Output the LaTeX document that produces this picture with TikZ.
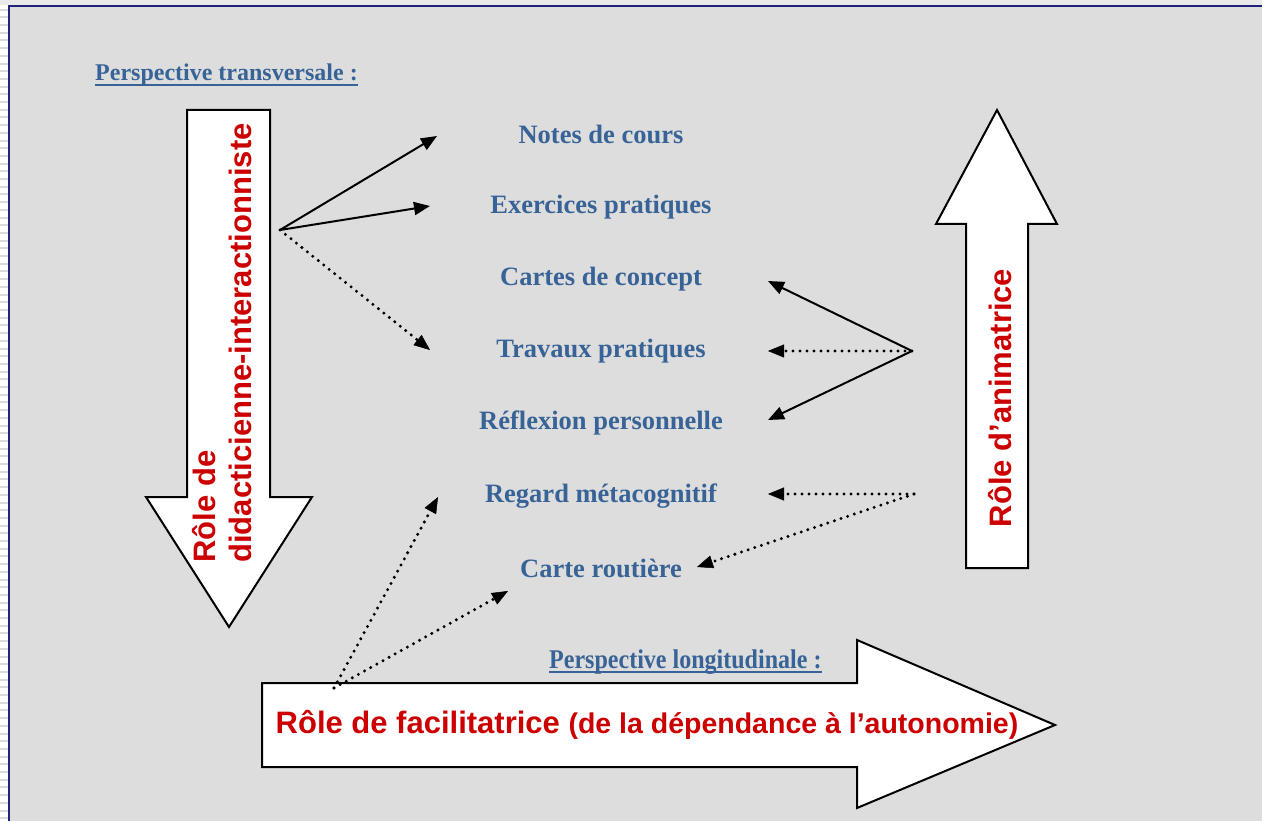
\documentclass[tikz,border=0pt]{standalone}
\usepackage{fontspec}
\setmainfont{Liberation Serif}
\setsansfont{Liberation Sans}
\usetikzlibrary{arrows.meta}
\definecolor{fondgris}{HTML}{DDDDDD}
\definecolor{rayure}{HTML}{DADADA}
\definecolor{bleutitre}{HTML}{386396}
\definecolor{rougerole}{HTML}{CC0000}
\definecolor{cadre}{HTML}{22227A}
\tikzset{
  outil/.style={font=\fontsize{26.5}{30}\selectfont\bfseries, text=bleutitre, inner sep=0pt},
  perspective/.style={font=\fontsize{24}{28}\selectfont\bfseries, text=bleutitre, inner sep=0pt, anchor=base west},
  role/.style={font=\fontsize{31}{36}\selectfont\sffamily\bfseries, text=rougerole, inner sep=0pt},
  bloc/.style={fill=white, draw=black, line width=2pt, line join=miter},
  fleche/.style={line width=2pt, -{Triangle[length=16pt,width=13pt]}},
  pointille/.style={line width=3.3pt, line cap=round, dash pattern=on 0pt off 7pt, -{Triangle[length=16pt,width=13pt,line width=0.5pt]}},
}
\begin{document}
\begin{tikzpicture}[x=1pt,y=-1pt]
  \useasboundingbox (0,0) rectangle (1262,821);
  % page frame
  \fill[white] (0,0) rectangle (9,821);
  \foreach \y in {2,9.7,...,821}
    \draw[rayure, line width=2pt] (0,\y) -- (8,\y);
  \fill[rayure!60!white] (0,0) rectangle (1262,5);
  \fill[fondgris] (9,6) rectangle (1262,821);
  \draw[cadre, line width=1.5pt] (9,821) -- (9,6) -- (1262,6);
  % big arrows
  \draw[bloc] (187,110) -- (270,110) -- (270,497) -- (312,497) -- (229,627) -- (146,497) -- (187,497) -- cycle;% down
  \draw[bloc] (966,568) -- (966,224) -- (936,224) -- (997,110) -- (1057,224) -- (1028,224) -- (1028,568) -- cycle;% up
  \draw[bloc] (262,683) -- (857,683) -- (857,640) -- (1055,725) -- (857,808) -- (857,767) -- (262,767) -- cycle;% right
  % roles
  \node[role, rotate=90, align=left] (didac) at (222,343) {R\^ole de\\didacticienne-interactionniste};
  \node[role, rotate=90] (anim) at (1000,398) {R\^ole d’animatrice};
  \node[role] (facil) at (647,725) {R\^ole de facilitatrice {\fontsize{28.5}{34}\selectfont (de la d\'ependance \`a l’autonomie)}};
  % perspectives
  \node[perspective] (transv) at (95,81) {Perspective transversale :};
  \draw[bleutitre, line width=2pt] ([yshift=-4pt]transv.base west) -- ([yshift=-4pt]transv.base east);
  \node[perspective, font=\fontsize{27}{30}\selectfont\bfseries, xscale=0.89] (longi) at (549,668) {Perspective longitudinale :};
  \draw[bleutitre, line width=2pt] ([yshift=-4pt]longi.base west) -- ([yshift=-4pt]longi.base east);
  % tools
  \node[outil] (notes) at (601,134) {Notes de cours};
  \node[outil] (exerc) at (601,207) {Exercices pratiques};
  \node[outil] (cartes) at (601,279) {Cartes de concept};
  \node[outil] (travaux) at (601,351) {Travaux pratiques};
  \node[outil] (reflex) at (601,423) {R\'eflexion personnelle};
  \node[outil] (regard) at (601,496) {Regard m\'etacognitif};
  \node[outil] (route) at (601,568) {Carte routi\`ere};
  % connector ends
  \coordinate (o-didac) at (280,230);
  \coordinate (o-anim) at (912,351);
  \coordinate (o-anim2) at (914,494);
  \coordinate (o-facil) at (334,688);
  \coordinate (b-notes) at (437,136);
  \coordinate (b-exerc) at (430,206);
  \coordinate (b-travaux) at (430,350);
  \coordinate (d-cartes) at (768,281);
  \coordinate (d-travaux) at (768,351);
  \coordinate (d-reflex) at (768,420);
  \coordinate (d-regard) at (768,494);
  \coordinate (d-route) at (697,567);
  \coordinate (g-regard) at (438,497);
  \coordinate (g-route) at (508,591);
  % connectors
  \draw[fleche] (o-didac) -- (b-notes);
  \draw[fleche] (o-didac) -- (b-exerc);
  \draw[pointille] (o-didac) -- (b-travaux);
  \draw[fleche] (o-anim) -- (d-cartes);
  \draw[pointille] (o-anim) -- (d-travaux);
  \draw[fleche] (o-anim) -- (d-reflex);
  \draw[pointille] (o-anim2) -- (d-regard);
  \draw[pointille] (o-anim2) -- (d-route);
  \draw[pointille] (o-facil) -- (g-regard);
  \draw[pointille] (o-facil) -- (g-route);
\end{tikzpicture}
\end{document}
